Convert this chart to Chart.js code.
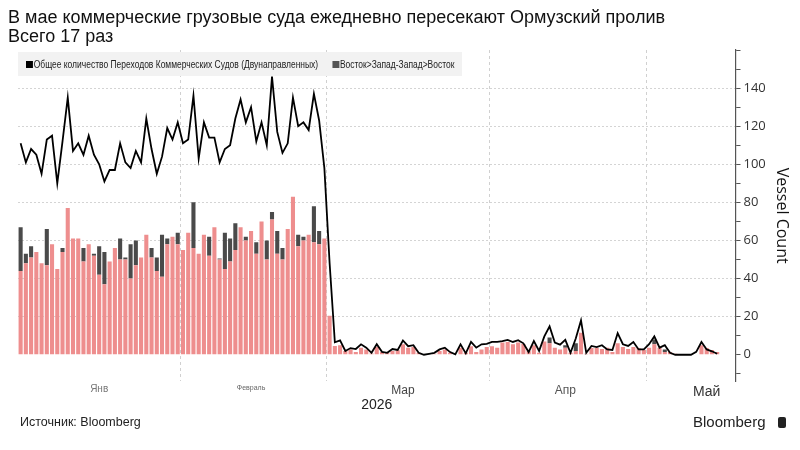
<!DOCTYPE html>
<html>
<head>
<meta charset="utf-8">
<script src="https://cdn.jsdelivr.net/npm/chart.js@4.4.1/dist/chart.umd.min.js"></script>
<style>
  body { margin: 0; background: #fff; font-family: "Liberation Sans", Arial, sans-serif; }
  #wrap { position: relative; width: 800px; height: 450px; overflow: hidden; }
  #myChart { position: absolute; left: 0; top: 0; }
  .title { position: absolute; left: 8px; top: 8px; font-size: 18px; line-height: 19px; color: #111; }
  .legend { position: absolute; left: 18px; top: 52px; width: 444px; height: 24px; background: #f2f2f2; }
  .legend .in { position: absolute; left: 8px; top: 0; transform: scaleX(0.77); transform-origin: left;
    font-family: "Liberation Sans", Arial, sans-serif; font-size: 11px; color: #222;
    line-height: 24px; white-space: nowrap; }
  .legend span.sq { display: inline-block; width: 9px; height: 7px; margin-right: 1px; }
  .src { position: absolute; left: 20px; top: 415px; font-size: 12.5px; color: #222; }
  .brand { position: absolute; left: 693px; top: 413px; font-size: 15px; color: #222; }
  .brand i { display: inline-block; width: 8px; height: 11px; background: #222; border-radius: 2px; margin-left: 12px; vertical-align: -1px; }
</style>
</head>
<body>
<div id="wrap">
  <canvas id="myChart" width="800" height="450"></canvas>
  <div class="title">В мае коммерческие грузовые суда ежедневно пересекают Ормузский пролив<br>Всего 17 раз</div>
  <div class="legend"><div class="in"><span class="sq" style="background:#000"></span>Общее количество Переходов Коммерческих Судов (Двунаправленных)&nbsp;&nbsp;&nbsp;&nbsp;&nbsp;&nbsp;<span class="sq" style="background:#555"></span>Восток&gt;Запад-Запад&gt;Восток</div></div>
  <div class="src">Источник: Bloomberg</div>
  <div class="brand">Bloomberg<i></i></div>
</div>
<script>
"use strict";

// total two-way transits (line), by month
let lineJan = [111, 101, 108, 105, 95, 113, 115, 90, 112, 135, 107, 111, 105, 115, 105, 100, 91, 97, 97, 111, 101, 98, 107, 101, 124, 108, 95, 104, 119, 113, 122];
let lineFeb = [111, 113, 136, 103, 122, 114, 114, 101, 108, 110, 124, 134, 122, 130, 112, 122, 110, 146, 117, 106, 111, 135, 120, 122, 118, 137, 123, 98];
let lineMar = [48, 6.5, 7.5, 2, 3.5, 3, 5.5, 3.7, 1, 5.5, 1.5, 1, 3, 2.5, 7.5, 4.5, 5, 1, 0, 0.5, 1, 2.8, 3.7, 1.4, 0.2, 5.5, 0.7, 6.7, 3.7, 5.5, 5.7];
let lineApr = [6.7, 6.8, 7.1, 7.8, 6.7, 7.6, 6, 1.4, 7.2, 2, 9.6, 14.9, 6.4, 5.3, 7.8, 1, 8.5, 18, 1, 4.6, 4, 5, 2.8, 2.5, 11.3, 5.5, 4.6, 6.7, 2.8, 2.8];
let lineMay = [5.5, 9.6, 3.7, 5, 1, 0, 0, 0, 0, 1.5, 6.7, 2.8, 1.8, 0.5];

// pink bars
let pinkJan = [44, 48, 51, 54, 48, 47, 58, 45, 54, 77, 61, 61, 49, 58, 52, 42, 37, 49, 56, 50, 50, 40, 47, 51, 63, 51, 44, 41, 58, 62, 58];
let pinkFeb = [55, 64, 56, 53, 63, 52, 67, 50, 45, 49, 55, 67, 60, 65, 53, 70, 50, 71, 53, 50, 66, 83, 57, 60, 63, 59, 58, 61];
let pinkMar = [20.5, 4.6, 5, 2, 2.8, 1.4, 3.7, 2.8, 0.7, 4, 1.4, 1, 2, 2.3, 5.5, 3.7, 4, 1, 0, 0, 0.5, 2, 2.8, 1, 0, 3.7, 1, 4.5, 1.5, 2.8, 4];
let pinkApr = [4.5, 3.7, 6.4, 6.7, 5.5, 6.4, 5.7, 2, 5, 1, 7, 6, 3.7, 2.8, 3.7, 1, 2, 11.5, 0.5, 3.5, 3.5, 3, 3.7, 1.5, 6, 4, 3, 4, 3.5, 2.5];
let pinkMay = [3.7, 5.5, 3.7, 1.5, 1.5, 0.5, 0, 0, 0, 0, 5, 3.5, 2.5, 1.5];

// dark grey part on top (Восток>Запад-Запад>Восток)
let darkJan = [23, 5, 6, 0, 0, 19, 0, 0, 2, 0, 0, 0, 7, 0, 1, 15, 17, 0, 0, 11, 1, 18, 13, 0, 0, 5, 7, 22, 3, 0, 6];
let darkFeb = [0, 0, 24, 0, 0, 10, 0, 0.5, 19, 12, 14, 0, 2, 0, 6, 0, 10, 4, 12, 6, 0, 0, 6, 2, 0, 19, 7, 0];
let darkMar = [0, 0, 0, 0, 0, 0, 0, 0, 0, 0, 0, 0, 0, 0, 0, 0, 0, 0, 0, 0, 0, 0, 0, 0, 0, 0, 0, 0, 0, 0, 0];
let darkApr = [0, 0, 0, 0, 0, 0, 0, 0, 0, 0, 0, 3, 0, 0, 1.3, 0, 4, 0, 0, 0, 0, 0, 0, 0, 0, 0, 0, 0, 0, 0];
let darkMay = [0, 2.5, 0, 1.3, 0, 0, 0, 0, 0, 0, 0, 0, 0, 0];

let monthNames = ["Янв", "Февраль", "Мар", "Апр", "Май"];
let monthDays = [31, 28, 31, 30, 17];
let monthLabelDay = [16, 14, 15, 15, 12]; // day of month where the label sits
let yearTitle = "2026";

// one category per day, Jan 1 .. May 17
let days = [];
let monthStart = [];
let labelAt = {};
monthDays.forEach((n, m) => {
  monthStart.push(days.length);
  labelAt[days.length + monthLabelDay[m] - 1] = m;
  for (let d = 1; d <= n; d++) days.push(d + "." + (m + 1));
});

let lineData = lineJan.concat(lineFeb, lineMar, lineApr, lineMay);
let pinkData = pinkJan.concat(pinkFeb, pinkMar, pinkApr, pinkMay);
let darkData = darkJan.concat(darkFeb, darkMar, darkApr, darkMay);

let tickFonts = [
  { family: "Liberation Sans", size: 10 },
  { family: "Liberation Sans", size: 7 },
  { family: "Liberation Sans", size: 12 },
  { family: "Liberation Sans", size: 12 },
  { family: "Liberation Sans", size: 14 },
];
let tickColors = ["#777", "#666", "#444", "#555", "#333"];

const ctx = document.getElementById("myChart");

new Chart(ctx, {
  data: {
    labels: days,
    datasets: [
      {
        type: "line",
        label: "Общее количество Переходов Коммерческих Судов (Двунаправленных)",
        data: lineData,
        borderColor: "#000",
        borderWidth: 1.8,
        pointRadius: 0,
        tension: 0,
        stack: "line",
        order: 0,
      },
      {
        type: "bar",
        label: "pink",
        data: pinkData,
        backgroundColor: "#ee8e8e",
        barPercentage: 0.78,
        categoryPercentage: 1,
        stack: "bars",
        order: 1,
      },
      {
        type: "bar",
        label: "Восток>Запад-Запад>Восток",
        data: darkData,
        backgroundColor: "#4a4a4a",
        barPercentage: 0.78,
        categoryPercentage: 1,
        stack: "bars",
        order: 2,
      },
    ],
  },
  options: {
    responsive: false,
    animation: false,
    layout: { padding: { left: 18, top: 50, right: 5, bottom: 36 } },
    plugins: { legend: { display: false }, tooltip: { enabled: false } },
    scales: {
      x: {
        stacked: true,
        grid: {
          offset: true,
          drawTicks: false,
          color: (c) => (monthStart.indexOf(c.index) > 0 ? "#d0d0d0" : "rgba(0,0,0,0)"),
          lineWidth: 1,
        },
        border: { display: false, dash: [3, 3] },
        ticks: {
          autoSkip: false,
          maxRotation: 0,
          padding: 2,
          callback: (v, i) => (labelAt[i] !== undefined ? monthNames[labelAt[i]] : ""),
          font: (c) => tickFonts[labelAt[c.index] !== undefined ? labelAt[c.index] : 0],
          color: (c) => tickColors[labelAt[c.index] !== undefined ? labelAt[c.index] : 0],
        },
        title: {
          display: true,
          text: yearTitle,
          color: "#222",
          font: { family: "Liberation Sans", size: 14 },
          padding: { top: -5, bottom: 0 },
        },
      },
      y: {
        position: "right",
        stacked: true,
        min: -14,
        max: 160,
        afterBuildTicks: (axis) => {
          let t = [];
          for (let v = -10; v <= 160; v += 10) t.push({ value: v });
          axis.ticks = t;
        },
        grid: {
          color: (c) => (c.tick && c.tick.value % 20 === 0 && c.tick.value > 0 && c.tick.value < 160 ? "#d4d4d4" : "rgba(0,0,0,0)"),
          tickColor: "#555",
          tickLength: 5,
          lineWidth: 1,
        },
        border: { display: true, color: "#555", width: 1.2, dash: [2, 2] },
        ticks: {
          padding: 3,
          color: "#333",
          font: { family: "Open Sans", size: 13 },
          callback: (v) => (v % 20 === 0 && v >= 0 && v <= 140 ? v : ""),
        },
        title: {
          display: true,
          text: "Vessel Count",
          color: "#111",
          font: { family: "Open Sans", size: 16 },
          padding: { top: 4, bottom: 3 },
        },
      },
    },
  },
});
</script>
</body>
</html>
